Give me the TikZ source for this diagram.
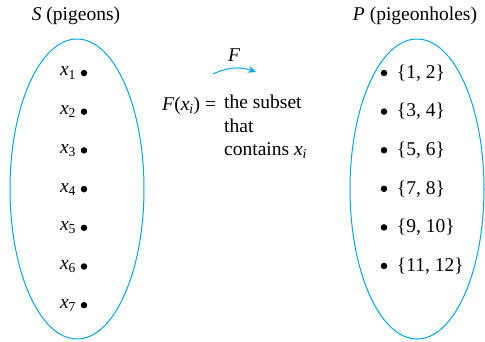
\documentclass[tikz,border=0pt]{standalone}
\usepackage{fontspec}
\setmainfont{Liberation Serif}
\usetikzlibrary{arrows.meta}
\definecolor{setblue}{RGB}{0,166,234}
\newcommand{\xsub}[1]{\textit{x}\textsubscript{#1}}

\begin{document}
\begin{tikzpicture}[x=1pt,y=-1pt,font=\fontsize{19.5}{23.5}\selectfont,
  dot/.style={circle,fill=black,inner sep=0pt,minimum size=6.5pt},
  setline/.style={setblue,line width=1pt}]
\useasboundingbox (0,0) rectangle (485,341);
% the two sets
\draw[setline] (77,189) ellipse [x radius=67, y radius=150];
\draw[setline] (417,189) ellipse [x radius=67, y radius=150];
\node (Stitle) at (76,16) {\textit{S} (pigeons)};
\node (Ptitle) at (415,16) {\textit{P} (pigeonholes)};
% pigeons
\foreach \i [evaluate=\i as \y using 73+38.7*(\i-1)] in {1,...,7} {
\node[dot] (s\i) at (84,\y) {};
\node[left=1pt] (ls\i) at (s\i.west) {\xsub{\i}};
}
% pigeonholes
\foreach \a/\b [count=\i, evaluate=\i as \y using 73+38.6*(\i-1)] in {1/2,3/4,5/6,7/8,9/10,11/12} {
\node[dot] (p\i) at (384,\y) {};
\node[right=6pt] (lp\i) at (p\i.east) {\{\a, \b\}};
}
% the function
\coordinate (Fstart) at (213,74);
\coordinate (Fend) at (256,72);
\draw[setline,-{Stealth[length=8pt,width=7pt]}] (Fstart) to[bend left=22] node[above=3pt, black] (Flab) {\textit{F}} (Fend);
\node[anchor=base west, inner sep=0pt] (eq) at (162,110) {\textit{F}(\xsub{\textit{i}}) = };
\node[anchor=north west, align=left, inner sep=0pt] (desc) at (224,95) {the subset\\that\\contains \xsub{\textit{i}}};
\end{tikzpicture}
\end{document}
